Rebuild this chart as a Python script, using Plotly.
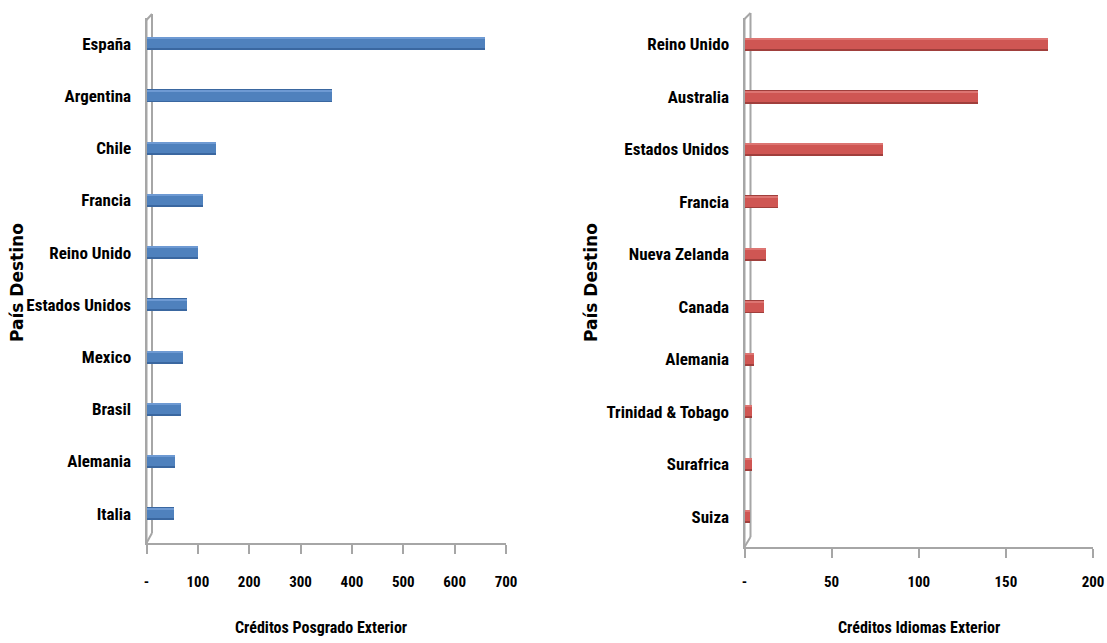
import plotly.graph_objects as go

# Data
paises_posgrado = ["España", "Argentina", "Chile", "Francia", "Reino Unido",
                   "Estados Unidos", "Mexico", "Brasil", "Alemania", "Italia"]
creditos_posgrado = [658, 360, 134, 109, 100, 78, 71, 66, 54, 52]

paises_idiomas = ["Reino Unido", "Australia", "Estados Unidos", "Francia", "Nueva Zelanda",
                  "Canada", "Alemania", "Trinidad & Tobago", "Surafrica", "Suiza"]
creditos_idiomas = [174, 134, 79, 19, 12, 11, 5, 4, 4, 3]

tick_vals_posgrado = [0, 100, 200, 300, 400, 500, 600, 700]
tick_text_posgrado = ["-", "100", "200", "300", "400", "500", "600", "700"]
tick_vals_idiomas = [0, 50, 100, 150, 200]
tick_text_idiomas = ["-", "50", "100", "150", "200"]

W, H = 1107, 643
NARROW = "Liberation Sans Narrow, Arial Narrow, Roboto Condensed, sans-serif"
AXIS_GRAY = "#A6A6A6"

fig = go.Figure()
# shaded cylinder look: darker base bar + lighter body bar + thin highlight
for vals, cats, xa, ya, dark, body, light in [
        (creditos_posgrado, paises_posgrado, "x", "y", "#3A67A0", "#4F81BD", "#6E9AD3"),
        (creditos_idiomas, paises_idiomas, "x2", "y2", "#A03F3C", "#CF5653", "#DD7572")]:
    fig.add_trace(go.Bar(x=vals, y=cats, orientation="h", xaxis=xa, yaxis=ya,
                         width=0.25, offset=-0.125,
                         marker=dict(color=dark, line=dict(width=0)),
                         showlegend=False, hoverinfo="skip"))
    fig.add_trace(go.Bar(x=vals, y=cats, orientation="h", xaxis=xa, yaxis=ya,
                         width=0.2, offset=-0.11,
                         marker=dict(color=body, line=dict(width=0)),
                         showlegend=False))
    fig.add_trace(go.Bar(x=vals, y=cats, orientation="h", xaxis=xa, yaxis=ya,
                         width=0.025, offset=-0.11,
                         marker=dict(color=light, line=dict(width=0)),
                         showlegend=False, hoverinfo="skip"))

def px_x(p):
    return p / W

def px_y(p):
    return 1 - p / H

tickfont = dict(family=NARROW, size=15, color="black", weight=700)
catfont = dict(family=NARROW, size=17, color="black", weight=700)

common = dict(showgrid=False, zeroline=False, showline=True, linecolor=AXIS_GRAY,
              linewidth=2, automargin=False)

fig.update_layout(
    width=W, height=H, autosize=False,
    margin=dict(l=0, r=0, t=0, b=0, autoexpand=False),
    paper_bgcolor="white", plot_bgcolor="white",
    barmode="overlay", bargap=0,
    xaxis=dict(
        domain=[px_x(146.5), px_x(506)], range=[0, 700],
        tickvals=tick_vals_posgrado, ticktext=tick_text_posgrado,
        ticks="outside", ticklen=9, tickwidth=1.5, tickcolor=AXIS_GRAY,
        tickfont=tickfont, ticklabelstandoff=15, anchor="y", **common,
    ),
    yaxis=dict(
        domain=[px_y(543), px_y(18)], range=[9.56, -0.49],
        type="category",
        ticks="", tickfont=catfont, ticklabelstandoff=10, anchor="x", **common,
    ),
    xaxis2=dict(
        domain=[px_x(744.5), px_x(1093)], range=[0, 200],
        tickvals=tick_vals_idiomas, ticktext=tick_text_idiomas,
        ticks="outside", ticklen=9, tickwidth=1.5, tickcolor=AXIS_GRAY,
        tickfont=tickfont, ticklabelstandoff=11, anchor="y2", **common,
    ),
    yaxis2=dict(
        domain=[px_y(547), px_y(18)], range=[9.578, -0.505],
        type="category",
        ticks="", tickfont=catfont, ticklabelstandoff=10, anchor="x2", **common,
    ),
)

# 3D wall decoration lines
shapes = []
for (ox, ix, top_o, top_i, bot_i, bot_o) in [(146.5, 152, 20, 14, 533, 543),
                                             (744.5, 750.5, 19, 13, 537, 547)]:
    for (x0, y0, x1, y1) in [(ox, top_o, ox, bot_o), (ix, top_i, ix, bot_i),
                             (ox, top_o, ix, top_i), (ix, bot_i, ox, bot_o)]:
        shapes.append(dict(type="line", xref="paper", yref="paper", layer="below",
                           x0=px_x(x0), y0=px_y(y0), x1=px_x(x1), y1=px_y(y1),
                           line=dict(color=AXIS_GRAY, width=2)))
fig.update_layout(shapes=shapes)

titlefont = dict(family=NARROW, size=16, color="black", weight=700)
ytitlefont = dict(family="DejaVu Sans, Verdana, sans-serif", size=17, color="black", weight=700)

fig.add_annotation(text="Créditos Posgrado Exterior", xref="paper", yref="paper",
                   x=px_x(321), y=px_y(627), xanchor="center", yanchor="middle",
                   showarrow=False, font=titlefont)
fig.add_annotation(text="Créditos Idiomas Exterior", xref="paper", yref="paper",
                   x=px_x(919), y=px_y(627), xanchor="center", yanchor="middle",
                   showarrow=False, font=titlefont)
fig.add_annotation(text="País Destino", xref="paper", yref="paper",
                   x=px_x(17), y=px_y(283), xanchor="center", yanchor="middle",
                   textangle=-90, showarrow=False, font=ytitlefont)
fig.add_annotation(text="País Destino", xref="paper", yref="paper",
                   x=px_x(591), y=px_y(283), xanchor="center", yanchor="middle",
                   textangle=-90, showarrow=False, font=ytitlefont)

post = ("document.documentElement.style.overflow='hidden';"
        "document.body.style.margin='0';document.body.style.overflow='hidden';")
fig.write_html("out.html", config={"responsive": False}, post_script=post)
